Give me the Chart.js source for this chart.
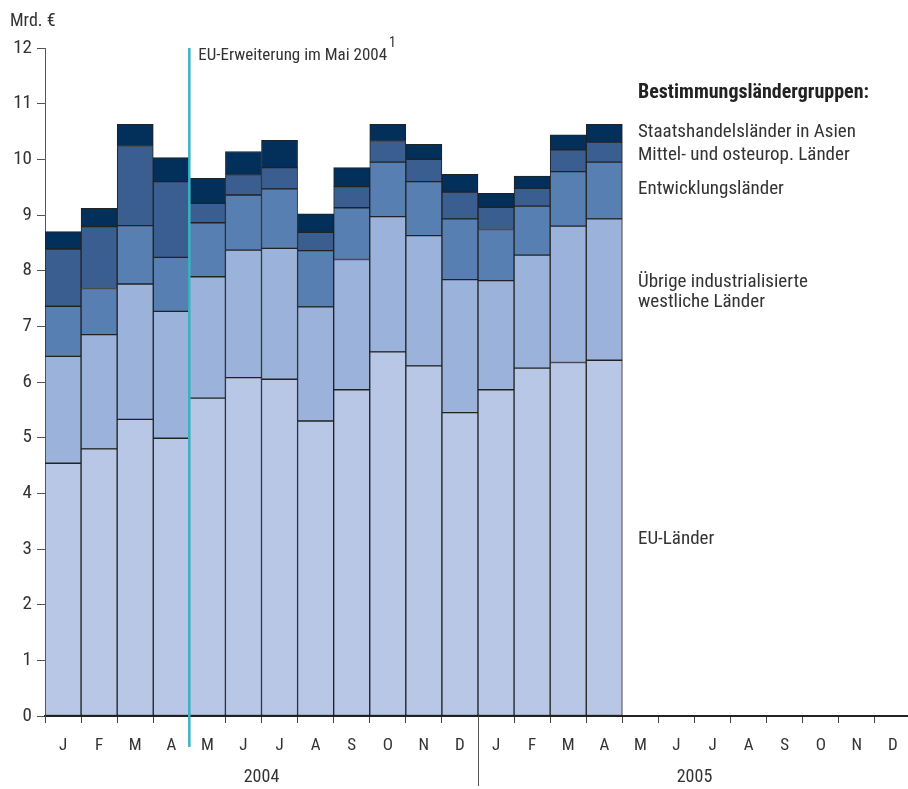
<!DOCTYPE html>
<html>
<head>
<meta charset="utf-8">
<script src="https://cdn.jsdelivr.net/npm/chart.js@4.4.1/dist/chart.umd.min.js"></script>
<style>
  html, body { margin: 0; padding: 0; background: #fff; overflow: hidden; }
  #wrap { width: 908px; height: 789px; position: relative; overflow: hidden; }
</style>
</head>
<body>
<div id="wrap"><canvas id="c" width="911" height="789"></canvas></div>
<script>
const months = ["J","F","M","A","M","J","J","A","S","O","N","D","J","F","M","A","M","J","J","A","S","O","N","D"];
const years = ["2004", "2005"];
const yTicks = [0,1,2,3,4,5,6,7,8,9,10,11,12];

const seriesNames = [
  "EU-Länder",
  "Übrige industrialisierte westliche Länder",
  "Entwicklungsländer",
  "Mittel- und osteurop. Länder",
  "Staatshandelsländer in Asien"
];
const euLaender    = [4.54,4.80,5.33,4.99,5.71,6.08,6.05,5.30,5.86,6.54,6.29,5.45,5.86,6.25,6.35,6.39,null,null,null,null,null,null,null,null];
const uebrige      = [1.92,2.05,2.43,2.28,2.18,2.29,2.35,2.05,2.34,2.43,2.34,2.39,1.96,2.03,2.45,2.54,null,null,null,null,null,null,null,null];
const entwicklung  = [0.90,0.83,1.05,0.97,0.97,0.99,1.07,1.01,0.93,0.98,0.97,1.09,0.92,0.88,0.98,1.02,null,null,null,null,null,null,null,null];
const mittelOst    = [1.03,1.11,1.42,1.36,0.35,0.35,0.38,0.33,0.38,0.37,0.40,0.48,0.40,0.32,0.39,0.36,null,null,null,null,null,null,null,null];
const staatshandel = [0.31,0.33,0.40,0.43,0.45,0.43,0.49,0.33,0.34,0.31,0.27,0.32,0.25,0.22,0.27,0.32,null,null,null,null,null,null,null,null];

const colors = ["#b9c7e7", "#9bb3da", "#577fb2", "#3b5e91", "#03305a"];
const FONT = "'Liberation Sans Narrow', 'Roboto Condensed', Roboto, 'Liberation Sans', sans-serif";

const seriesData = [euLaender, uebrige, entwicklung, mittelOst, staatshandel];
const datasets = seriesData.map((d, i) => ({
  label: seriesNames[i],
  data: d,
  backgroundColor: colors[i],
  borderColor: "#222",
  borderWidth: 1,
  borderSkipped: false,
  categoryPercentage: 1.0,
  barPercentage: 1.0
}));

const overlay = {
  id: "overlay",
  afterDraw(chart) {
    const ctx = chart.ctx;
    const xs = chart.scales.x;
    const ys = chart.scales.y;
    const area = chart.chartArea;
    const bnd = (i) => (xs.getPixelForValue(i - 1) + xs.getPixelForValue(i)) / 2;
    ctx.save();
    // year separator
    const xSep = Math.round(bnd(12)) + 0.5;
    ctx.strokeStyle = "#555";
    ctx.lineWidth = 1;
    ctx.beginPath();
    ctx.moveTo(xSep, area.bottom);
    ctx.lineTo(xSep, 786);
    ctx.stroke();
    // EU enlargement line
    const xE = bnd(4);
    ctx.strokeStyle = "#3ab3c3";
    ctx.lineWidth = 2.5;
    ctx.beginPath();
    ctx.moveTo(xE, ys.getPixelForValue(12));
    ctx.lineTo(xE, 747);
    ctx.stroke();
    // texts
    ctx.fillStyle = "#333";
    ctx.textBaseline = "middle";
    ctx.textAlign = "center";
    ctx.font = "18px " + FONT;
    const c04 = (xs.getPixelForValue(0) + xs.getPixelForValue(11)) / 2;
    const c05 = (xs.getPixelForValue(12) + xs.getPixelForValue(23)) / 2;
    ctx.fillText(years[0], c04, 777);
    ctx.fillText(years[1], c05, 777);
    ctx.textAlign = "left";
    ctx.font = "18px " + FONT;
    ctx.fillText("Mrd. €", 10, 21);
    ctx.font = "17px " + FONT;
    const t = "EU-Erweiterung im Mai 2004";
    ctx.fillText(t, xE + 9, 56);
    const tw = ctx.measureText(t).width;
    ctx.font = "14px " + FONT;
    ctx.fillText("1", xE + 9 + tw + 2, 43);
    // legend labels
    ctx.fillStyle = "#222";
    ctx.font = "bold 20px " + FONT;
    ctx.fillText("Bestimmungsländergruppen:", 638, 93);
    ctx.fillStyle = "#333";
    ctx.font = "19px " + FONT;
    ctx.fillText("Staatshandelsländer in Asien", 638, 132);
    ctx.fillText("Mittel- und osteurop. Länder", 638, 155);
    ctx.fillText("Entwicklungsländer", 638, 189);
    ctx.fillText("Übrige industrialisierte", 638, 282);
    ctx.fillText("westliche Länder", 638, 302);
    ctx.fillText("EU-Länder", 638, 539);
    ctx.restore();
  }
};

new Chart(document.getElementById("c"), {
  type: "bar",
  data: { labels: months, datasets },
  options: {
    responsive: false,
    animation: false,
    devicePixelRatio: 1,
    layout: { padding: { top: 48, right: 0, left: 0, bottom: 0 } },
    plugins: { legend: { display: false }, tooltip: { enabled: false } },
    scales: {
      x: {
        stacked: true,
        offset: true,
        afterFit(s) { s.height = 73; },
        grid: { offset: true, drawOnChartArea: false, tickLength: 7, color: "#444", lineWidth: 1 },
        border: { display: true, color: "#222", width: 2 },
        ticks: { color: "#333", font: { family: FONT, size: 17 }, padding: 13, maxRotation: 0, autoSkip: false }
      },
      y: {
        stacked: true,
        min: 0, max: 12,
        afterFit(s) { s.width = 45; },
        afterBuildTicks(s) { s.ticks = yTicks.map(v => ({ value: v })); },
        grid: { drawOnChartArea: false, tickLength: 8, color: "#555" },
        border: { display: true, color: "#555", width: 1 },
        ticks: { color: "#333", font: { family: FONT, size: 19 }, padding: 5 }
      }
    }
  },
  plugins: [overlay]
});
</script>
</body>
</html>
